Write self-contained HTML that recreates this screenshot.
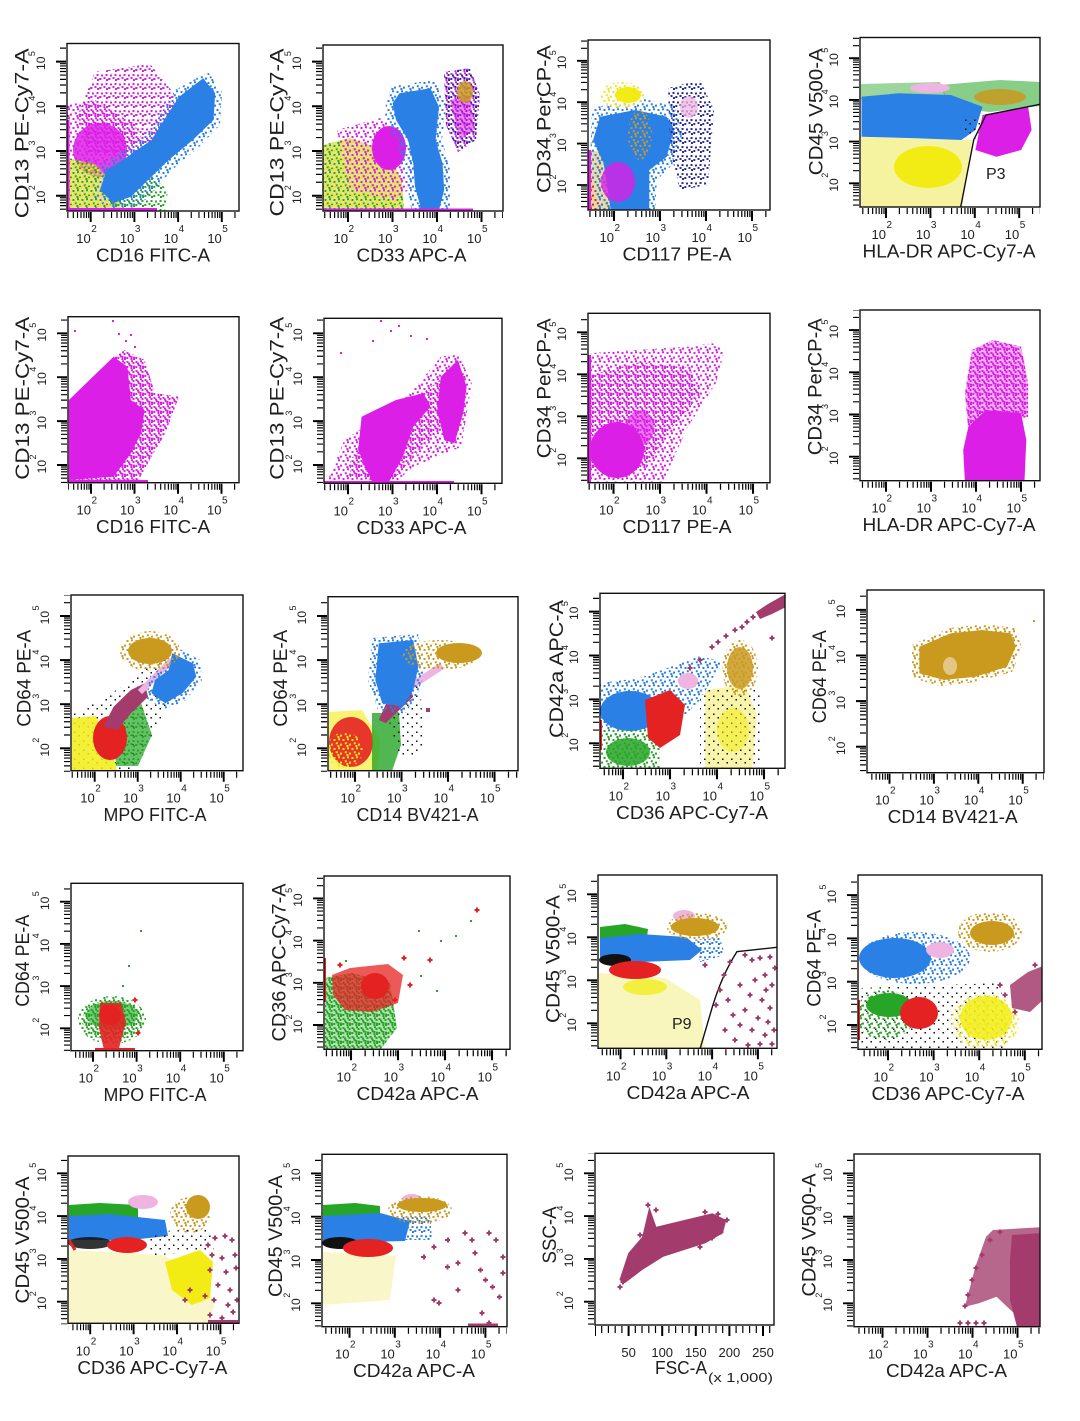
<!DOCTYPE html>
<html><head><meta charset="utf-8"><style>
html,body{margin:0;padding:0;background:#fff}
svg{display:block}
text{font-family:"Liberation Sans",Arial,sans-serif;fill:#1e1e1e}
.a{font-size:13px;text-anchor:end}
.e{font-size:10px}
.b{font-size:12px;text-anchor:end}
.f{font-size:9px}
.tx{font-size:18px;text-anchor:middle}
.ty{font-size:19px;text-anchor:middle}
.bx{fill:none;stroke:#111;stroke-width:1.4}
</style></head><body>
<svg width="1080" height="1421" viewBox="0 0 1080 1421" xmlns="http://www.w3.org/2000/svg">
<defs>
<g id="xd" stroke="#000"><line x1="0" y1="0" x2="0" y2="10" stroke-width="2"/><path d="M13.55,0v6M21.47,0v6M27.09,0v6M31.45,0v6M35.02,0v6M38.03,0v6M40.64,0v6M42.94,0v6" stroke-width="1.2"/></g>
<g id="yd" stroke="#000"><line x1="0" y1="0" x2="-10" y2="0" stroke-width="2"/><path d="M0,-13.55h-6M0,-21.47h-6M0,-27.09h-6M0,-31.45h-6M0,-35.02h-6M0,-38.03h-6M0,-40.64h-6M0,-42.94h-6" stroke-width="1.2"/></g>
<pattern id="pM" width="9" height="9" patternUnits="userSpaceOnUse"><path fill="#dc1fe6" d="M.5 1h2v2h-2zM5 .3h2v2h-2zM2.8 4.2h2v2h-2zM7 5.6h2v2h-2zM4.4 7h2v2h-2z"/></pattern>
<pattern id="pM2" width="9" height="9" patternUnits="userSpaceOnUse"><path fill="#dc1fe6" d="M2 2.5h2v2h-2zM6.5 2h2v2h-2zM.3 6h2v2h-2zM4.5 5h2v2h-2zM7 7h2v2h-2z"/></pattern>
<pattern id="pB" width="9" height="9" patternUnits="userSpaceOnUse"><path fill="#2b80e6" d="M.5 1h2v2h-2zM5 .3h2v2h-2zM2.8 4.2h2v2h-2zM7 5.6h2v2h-2zM4.4 7h2v2h-2z"/></pattern>
<pattern id="pB2" width="9" height="9" patternUnits="userSpaceOnUse"><path fill="#2b80e6" d="M2 2.5h2v2h-2zM6.5 2h2v2h-2zM.3 6h2v2h-2zM4.5 5h2v2h-2zM7 7h2v2h-2z"/></pattern>
<pattern id="pN" width="9" height="9" patternUnits="userSpaceOnUse"><path fill="#2a2ea0" d="M2 2.5h2v2h-2zM6.5 2h2v2h-2zM.3 6h2v2h-2zM4.5 5h2v2h-2zM7 7h2v2h-2z"/></pattern>
<pattern id="pY" width="9" height="9" patternUnits="userSpaceOnUse"><path fill="#eee41a" d="M.5 1h2v2h-2zM5 .3h2v2h-2zM2.8 4.2h2v2h-2zM7 5.6h2v2h-2zM4.4 7h2v2h-2z"/></pattern>
<pattern id="pY2" width="9" height="9" patternUnits="userSpaceOnUse"><path fill="#eee41a" d="M2 2.5h2v2h-2zM6.5 2h2v2h-2zM.3 6h2v2h-2zM4.5 5h2v2h-2zM7 7h2v2h-2z"/></pattern>
<pattern id="pG" width="9" height="9" patternUnits="userSpaceOnUse"><path fill="#26a526" d="M.5 1h2v2h-2zM5 .3h2v2h-2zM2.8 4.2h2v2h-2zM7 5.6h2v2h-2zM4.4 7h2v2h-2z"/></pattern>
<pattern id="pG2" width="9" height="9" patternUnits="userSpaceOnUse"><path fill="#26a526" d="M2 2.5h2v2h-2zM6.5 2h2v2h-2zM.3 6h2v2h-2zM4.5 5h2v2h-2zM7 7h2v2h-2z"/></pattern>
<pattern id="pR" width="9" height="9" patternUnits="userSpaceOnUse"><path fill="#e42222" d="M.5 1h2v2h-2zM5 .3h2v2h-2zM2.8 4.2h2v2h-2zM7 5.6h2v2h-2zM4.4 7h2v2h-2z"/></pattern>
<pattern id="pK" width="9" height="9" patternUnits="userSpaceOnUse"><path fill="#111" d="M2 2.5h1.5v1.5h-1.5zM6.5 6h1.5v1.5h-1.5z"/></pattern>
<pattern id="pO" width="9" height="9" patternUnits="userSpaceOnUse"><path fill="#c99a1e" d="M.5 1h2v2h-2zM5 .3h2v2h-2zM2.8 4.2h2v2h-2zM7 5.6h2v2h-2zM4.4 7h2v2h-2z"/></pattern>
<clipPath id="b1"><rect x="67" y="43.5" width="172" height="167.5"/></clipPath>
<clipPath id="k1"><rect x="67" y="211" width="172" height="14"/><rect x="55" y="43.5" width="12" height="168.5"/></clipPath>
<clipPath id="b2"><rect x="323" y="45" width="180" height="166"/></clipPath>
<clipPath id="k2"><rect x="323" y="211" width="180" height="14"/><rect x="311" y="45" width="12" height="167"/></clipPath>
<clipPath id="b3"><rect x="588" y="40" width="182" height="170"/></clipPath>
<clipPath id="k3"><rect x="588" y="210" width="182" height="14"/><rect x="576" y="40" width="12" height="171"/></clipPath>
<clipPath id="b4"><rect x="860" y="37.5" width="180" height="169.5"/></clipPath>
<clipPath id="k4"><rect x="860" y="207" width="180" height="14"/><rect x="848" y="37.5" width="12" height="170.5"/></clipPath>
<clipPath id="b5"><rect x="68" y="316.7" width="171" height="166"/></clipPath>
<clipPath id="k5"><rect x="68" y="482.7" width="171" height="14"/><rect x="56" y="316.7" width="12" height="167"/></clipPath>
<clipPath id="b6"><rect x="324" y="318.3" width="178" height="165"/></clipPath>
<clipPath id="k6"><rect x="324" y="483.3" width="178" height="14"/><rect x="312" y="318.3" width="12" height="166"/></clipPath>
<clipPath id="b7"><rect x="588" y="313.3" width="182" height="169.4"/></clipPath>
<clipPath id="k7"><rect x="588" y="482.7" width="182" height="14"/><rect x="576" y="313.3" width="12" height="170.4"/></clipPath>
<clipPath id="b8"><rect x="860" y="310" width="180" height="170.7"/></clipPath>
<clipPath id="k8"><rect x="860" y="480.7" width="180" height="14"/><rect x="848" y="310" width="12" height="171.7"/></clipPath>
<clipPath id="b9"><rect x="71" y="595" width="172" height="175.7"/></clipPath>
<clipPath id="k9"><rect x="71" y="770.7" width="172" height="14"/><rect x="59" y="595" width="12" height="176.7"/></clipPath>
<clipPath id="b10"><rect x="328" y="596.7" width="190" height="174"/></clipPath>
<clipPath id="k10"><rect x="328" y="770.7" width="190" height="14"/><rect x="316" y="596.7" width="12" height="175"/></clipPath>
<clipPath id="b11"><rect x="600" y="593.3" width="185" height="175"/></clipPath>
<clipPath id="k11"><rect x="600" y="768.3" width="185" height="14"/><rect x="588" y="593.3" width="12" height="176"/></clipPath>
<clipPath id="b12"><rect x="867" y="590" width="177" height="182.7"/></clipPath>
<clipPath id="k12"><rect x="867" y="772.7" width="177" height="14"/><rect x="855" y="590" width="12" height="183.7"/></clipPath>
<clipPath id="b13"><rect x="71" y="883.3" width="172" height="167.4"/></clipPath>
<clipPath id="k13"><rect x="71" y="1050.7" width="172" height="14"/><rect x="59" y="883.3" width="12" height="168.4"/></clipPath>
<clipPath id="b14"><rect x="324" y="876" width="186" height="173.3"/></clipPath>
<clipPath id="k14"><rect x="324" y="1049.3" width="186" height="14"/><rect x="312" y="876" width="12" height="174.3"/></clipPath>
<clipPath id="b15"><rect x="598" y="875" width="179" height="173.3"/></clipPath>
<clipPath id="k15"><rect x="598" y="1048.3" width="179" height="14"/><rect x="586" y="875" width="12" height="174.3"/></clipPath>
<clipPath id="b16"><rect x="858" y="875" width="184" height="174.3"/></clipPath>
<clipPath id="k16"><rect x="858" y="1049.3" width="184" height="14"/><rect x="846" y="875" width="12" height="175.3"/></clipPath>
<clipPath id="b17"><rect x="68" y="1156" width="171" height="167.3"/></clipPath>
<clipPath id="k17"><rect x="68" y="1323.3" width="171" height="14"/><rect x="56" y="1156" width="12" height="168.3"/></clipPath>
<clipPath id="b18"><rect x="322" y="1154.3" width="185" height="172.4"/></clipPath>
<clipPath id="k18"><rect x="322" y="1326.7" width="185" height="14"/><rect x="310" y="1154.3" width="12" height="173.4"/></clipPath>
<clipPath id="b19"><rect x="595" y="1153.3" width="179" height="171.7"/></clipPath>
<clipPath id="k19"><rect x="595" y="1325" width="179" height="14"/><rect x="583" y="1153.3" width="12" height="172.7"/></clipPath>
<clipPath id="b20"><rect x="854" y="1154" width="186" height="172.7"/></clipPath>
<clipPath id="k20"><rect x="854" y="1326.7" width="186" height="14"/><rect x="842" y="1154" width="12" height="173.7"/></clipPath>
</defs>
<rect width="1080" height="1421" fill="#fff"/>

<!-- ================= P1 ================= -->
<g clip-path="url(#b1)">
<path d="M95,72L150,64L175,95L170,135L135,160L88,152L78,115Z" fill="url(#pN)"/>
<path d="M95,72L150,64L175,95L170,135L135,160L88,152L78,115Z" fill="url(#pM2)"/>
<path d="M67,105L95,100L135,125L152,160L140,190L110,200L67,200Z" fill="url(#pM)"/>
<ellipse cx="100" cy="150" rx="27" ry="27" fill="#dc1fe6" opacity=".85"/>
<path d="M67,158L95,164L116,186L122,212L67,212Z" fill="#d6d04a" opacity=".6"/>
<path d="M67,158L95,164L116,186L122,212L67,212Z" fill="url(#pG)"/>
<path d="M67,158L95,164L116,186L122,212L67,212Z" fill="url(#pY2)"/>
<path d="M208,72L222,92L220,125L198,148L172,170L155,190L140,205L120,212L95,198L100,165L125,150L148,132L158,118L175,90Z" fill="url(#pB)"/>
<path d="M110,195L150,175L168,190L165,212L110,212Z" fill="url(#pG2)"/>
<path d="M203.2,78.3L215.2,93.3L213.5,120L192.8,140L168.7,160L148.1,180L130.9,196.7L113.6,203.3L99.9,190L106.7,170L127.4,156.7L151.5,140L161.8,123.3L179.1,96.7Z" fill="#2b80e6"/>
<path d="M67,209.5h90" stroke="#dc1fe6" stroke-width="3"/>
<path d="M68.5,120v92" stroke="#dc1fe6" stroke-width="2"/>
</g>
<rect class="bx" x="67" y="43.5" width="172" height="167.5"/>
<g clip-path="url(#k1)">
<use href="#xd" transform="translate(47,212) scale(.971,1)"/><use href="#xd" transform="translate(90.7,212) scale(.971,1)"/><use href="#xd" transform="translate(134.4,212) scale(.971,1)"/><use href="#xd" transform="translate(178.1,212) scale(.971,1)"/><use href="#xd" transform="translate(221.8,212) scale(.971,1)"/>
<use href="#yd" transform="translate(66,240.4) scale(1,.993)"/><use href="#yd" transform="translate(66,195.7) scale(1,.993)"/><use href="#yd" transform="translate(66,151) scale(1,.993)"/><use href="#yd" transform="translate(66,106.3) scale(1,.993)"/><use href="#yd" transform="translate(66,61.6) scale(1,.993)"/>
</g>
<text class="a" x="90.7" y="243">10</text><text class="e" x="91.2" y="232">2</text>
<text class="a" x="134.4" y="243">10</text><text class="e" x="134.9" y="232">3</text>
<text class="a" x="178.1" y="243">10</text><text class="e" x="178.6" y="232">4</text>
<text class="a" x="221.8" y="243">10</text><text class="e" x="222.3" y="232">5</text>
<text class="b" transform="translate(45,190.7) rotate(-90)">10</text><text class="f" transform="translate(35,190.2) rotate(-90)">2</text>
<text class="b" transform="translate(45,146) rotate(-90)">10</text><text class="f" transform="translate(35,145.5) rotate(-90)">3</text>
<text class="b" transform="translate(45,101.3) rotate(-90)">10</text><text class="f" transform="translate(35,100.8) rotate(-90)">4</text>
<text class="b" transform="translate(45,56.6) rotate(-90)">10</text><text class="f" transform="translate(35,56.1) rotate(-90)">5</text>
<text class="tx" x="153" y="261.5" textLength="114" lengthAdjust="spacingAndGlyphs">CD16 FITC-A</text>
<text class="ty" transform="translate(28.5,133.3) rotate(-90)" textLength="170" lengthAdjust="spacingAndGlyphs">CD13 PE-Cy7-A</text>

<!-- ================= P2 ================= -->
<g clip-path="url(#b2)">
<path d="M323,145L350,138L385,150L402,180L404,212L323,212Z" fill="#cfd24a" opacity=".6"/>
<path d="M323,145L350,138L385,150L402,180L404,212L323,212Z" fill="url(#pG)"/>
<path d="M323,145L350,138L385,150L402,180L404,212L323,212Z" fill="url(#pY2)"/>
<path d="M337,130L380,118L413,140L415,185L395,200L350,190Z" fill="url(#pM)"/>
<ellipse cx="389" cy="148" rx="17" ry="22" fill="#dc1fe6"/>
<path d="M444,72L470,68L480,95L476,140L458,152L446,125Z" fill="url(#pM)"/>
<path d="M444,72L470,68L480,95L476,140L458,152L446,125Z" fill="url(#pN)"/>
<path d="M450,100L470,95L474,130L460,140Z" fill="#dc1fe6" opacity=".55"/>
<ellipse cx="465" cy="92" rx="8" ry="11" fill="#c99a1e" opacity=".85"/>
<path d="M392,86L435,80L446,105L442,140L450,170L450,212L412,212L405,175L398,145L385,120L386,100Z" fill="url(#pB)"/>
<path d="M399.4,93.3L430.4,88.3L439,106.7L435.6,140L442.5,163.3L444.2,190L439,210L421.8,211.7L415,186.7L413.2,163.3L408.1,140L396,120L392.6,103.3Z" fill="#2b80e6"/>
<path d="M323,209.5h150" stroke="#dc1fe6" stroke-width="2"/>
</g>
<rect class="bx" x="323" y="45" width="180" height="166"/>
<g clip-path="url(#k2)">
<use href="#xd" transform="translate(303.5,212) scale(.989,1)"/><use href="#xd" transform="translate(348,212) scale(.989,1)"/><use href="#xd" transform="translate(392.5,212) scale(.989,1)"/><use href="#xd" transform="translate(437,212) scale(.989,1)"/><use href="#xd" transform="translate(481.5,212) scale(.989,1)"/>
<use href="#yd" transform="translate(322,240.4) scale(1,.993)"/><use href="#yd" transform="translate(322,195.7) scale(1,.993)"/><use href="#yd" transform="translate(322,151) scale(1,.993)"/><use href="#yd" transform="translate(322,106.3) scale(1,.993)"/><use href="#yd" transform="translate(322,61.6) scale(1,.993)"/>
</g>
<text class="a" x="348" y="243">10</text><text class="e" x="348.5" y="232">2</text>
<text class="a" x="392.5" y="243">10</text><text class="e" x="393" y="232">3</text>
<text class="a" x="437" y="243">10</text><text class="e" x="437.5" y="232">4</text>
<text class="a" x="481.5" y="243">10</text><text class="e" x="482" y="232">5</text>
<text class="b" transform="translate(301,190.7) rotate(-90)">10</text><text class="f" transform="translate(291,190.2) rotate(-90)">2</text>
<text class="b" transform="translate(301,146) rotate(-90)">10</text><text class="f" transform="translate(291,145.5) rotate(-90)">3</text>
<text class="b" transform="translate(301,101.3) rotate(-90)">10</text><text class="f" transform="translate(291,100.8) rotate(-90)">4</text>
<text class="b" transform="translate(301,56.6) rotate(-90)">10</text><text class="f" transform="translate(291,56.1) rotate(-90)">5</text>
<text class="tx" x="411.5" y="261.5" textLength="110" lengthAdjust="spacingAndGlyphs">CD33 APC-A</text>
<text class="ty" transform="translate(283.5,132.5) rotate(-90)" textLength="168" lengthAdjust="spacingAndGlyphs">CD13 PE-Cy7-A</text>

<!-- ================= P3 ================= -->
<g clip-path="url(#b3)">
<path d="M589,150L620,155L640,180L635,212L589,212Z" fill="#c9b040" opacity=".45"/>
<path d="M589,150L620,155L640,180L635,212L589,212Z" fill="url(#pY)"/>
<path d="M589,150L620,155L640,180L635,212L589,212Z" fill="url(#pR)"/>
<path d="M592,108L640,98L675,106L682,135L672,165L657,180L655,212L600,212L590,165Z" fill="url(#pB)"/>
<path d="M600.2,116.7L635.2,110L666.8,116.7L673.8,130L666.8,156.7L649.3,170L649.3,210L610.7,210L603.7,163.3L593.1,140Z" fill="#2b80e6"/>
<ellipse cx="640" cy="135" rx="12" ry="25" fill="url(#pO)"/>
<ellipse cx="618" cy="182" rx="17" ry="20" fill="#dc1fe6" opacity=".8"/>
<ellipse cx="622" cy="95" rx="22" ry="13" fill="url(#pY)"/>
<ellipse cx="628" cy="95" rx="13" ry="8" fill="#f2ec14"/>
<path d="M668,88L700,80L714,110L708,185L680,190L670,150Z" fill="url(#pN)"/>
<ellipse cx="689" cy="107" rx="9" ry="11" fill="#f0b4e2" opacity=".75"/>
<path d="M589.5,150V212" stroke="#dc1fe6" stroke-width="3"/>
</g>
<rect class="bx" x="588" y="40" width="182" height="170"/>
<g clip-path="url(#k3)">
<use href="#xd" transform="translate(568,211) scale(1.022,1)"/><use href="#xd" transform="translate(614,211) scale(1.022,1)"/><use href="#xd" transform="translate(660,211) scale(1.022,1)"/><use href="#xd" transform="translate(706,211) scale(1.022,1)"/><use href="#xd" transform="translate(752,211) scale(1.022,1)"/>
<use href="#yd" transform="translate(587,226.4) scale(1,.92)"/><use href="#yd" transform="translate(587,185) scale(1,.92)"/><use href="#yd" transform="translate(587,143.6) scale(1,.92)"/><use href="#yd" transform="translate(587,102.2) scale(1,.92)"/><use href="#yd" transform="translate(587,60.8) scale(1,.92)"/>
</g>
<text class="a" x="614" y="242">10</text><text class="e" x="614.5" y="231">2</text>
<text class="a" x="660" y="242">10</text><text class="e" x="660.5" y="231">3</text>
<text class="a" x="706" y="242">10</text><text class="e" x="706.5" y="231">4</text>
<text class="a" x="752" y="242">10</text><text class="e" x="752.5" y="231">5</text>
<text class="b" transform="translate(566,180) rotate(-90)">10</text><text class="f" transform="translate(556,179.5) rotate(-90)">2</text>
<text class="b" transform="translate(566,138.6) rotate(-90)">10</text><text class="f" transform="translate(556,138.1) rotate(-90)">3</text>
<text class="b" transform="translate(566,97.2) rotate(-90)">10</text><text class="f" transform="translate(556,96.7) rotate(-90)">4</text>
<text class="b" transform="translate(566,55.8) rotate(-90)">10</text><text class="f" transform="translate(556,55.3) rotate(-90)">5</text>
<text class="tx" x="677" y="260.5" textLength="109" lengthAdjust="spacingAndGlyphs">CD117 PE-A</text>
<text class="ty" transform="translate(550.5,119) rotate(-90)" textLength="148" lengthAdjust="spacingAndGlyphs">CD34 PerCP-A</text>

<!-- ================= P4 ================= -->
<g clip-path="url(#b4)">
<path d="M861,137L972,140L962,208L861,208Z" fill="#f6f3a0"/>
<ellipse cx="928" cy="167" rx="34" ry="21" fill="#f2ec14"/>
<path d="M861,84L940,82L946,97L861,99Z" fill="#26a526" opacity=".45"/>
<path d="M940,85L1000,80L1040,82L1040,106L990,112L950,108Z" fill="#26a526" opacity=".55"/>
<ellipse cx="1000" cy="97" rx="26" ry="8" fill="#c99a1e" opacity=".85"/>
<ellipse cx="930" cy="88" rx="20" ry="5" fill="#f0b4e2"/>
<path d="M861.5,96.7L898.3,93.3L950.9,95L982.5,106.7L975.4,130L961.4,140L915.8,138.3L861.5,136.7Z" fill="#2b80e6"/>
<ellipse cx="972" cy="128" rx="10" ry="12" fill="url(#pK)"/>
<path d="M982.5,115L1028.1,106.7L1031.6,130L1021.1,150L996.5,156.7L975.4,150Z" fill="#dc1fe6"/>
<path d="M960.7,207L973.7,140L986,115L1040,104.3" fill="none" stroke="#111" stroke-width="1.4"/>
</g>
<text x="986" y="179" font-size="16">P3</text>
<rect class="bx" x="860" y="37.5" width="180" height="169.5"/>
<g clip-path="url(#k4)">
<use href="#xd" transform="translate(841.6,208) scale(.987,1)"/><use href="#xd" transform="translate(886,208) scale(.987,1)"/><use href="#xd" transform="translate(930.4,208) scale(.987,1)"/><use href="#xd" transform="translate(974.8,208) scale(.987,1)"/><use href="#xd" transform="translate(1019.2,208) scale(.987,1)"/>
<use href="#yd" transform="translate(859,225) scale(1,.927)"/><use href="#yd" transform="translate(859,183.3) scale(1,.927)"/><use href="#yd" transform="translate(859,141.6) scale(1,.927)"/><use href="#yd" transform="translate(859,99.9) scale(1,.927)"/><use href="#yd" transform="translate(859,58.2) scale(1,.927)"/>
</g>
<text class="a" x="886" y="239">10</text><text class="e" x="886.5" y="228">2</text>
<text class="a" x="930.4" y="239">10</text><text class="e" x="930.9" y="228">3</text>
<text class="a" x="974.8" y="239">10</text><text class="e" x="975.3" y="228">4</text>
<text class="a" x="1019.2" y="239">10</text><text class="e" x="1019.7" y="228">5</text>
<text class="b" transform="translate(838,178.3) rotate(-90)">10</text><text class="f" transform="translate(828,177.8) rotate(-90)">2</text>
<text class="b" transform="translate(838,136.6) rotate(-90)">10</text><text class="f" transform="translate(828,136.1) rotate(-90)">3</text>
<text class="b" transform="translate(838,94.9) rotate(-90)">10</text><text class="f" transform="translate(828,94.4) rotate(-90)">4</text>
<text class="b" transform="translate(838,53.2) rotate(-90)">10</text><text class="f" transform="translate(828,52.7) rotate(-90)">5</text>
<text class="tx" x="949" y="257.5" textLength="173" lengthAdjust="spacingAndGlyphs">HLA-DR APC-Cy7-A</text>
<text class="ty" transform="translate(822.5,111.7) rotate(-90)" textLength="127" lengthAdjust="spacingAndGlyphs">CD45 V500-A</text>

<!-- ================= P5 ================= -->
<g clip-path="url(#b5)">
<path d="M68.9,410L103.3,366.7L124,350L144.6,360L155,393.3L179,396.7L165.3,433.3L151.5,456.7L137.7,481.7L68.9,481.7Z" fill="url(#pM)"/>
<path d="M68.9,410L103.3,366.7L124,350L144.6,360L155,393.3L179,396.7L165.3,433.3L151.5,456.7L137.7,481.7L68.9,481.7Z" fill="url(#pM2)"/>
<path d="M68.9,400L89.5,380L113.6,356.7L127.4,366.7L130.9,400L144.6,410L141.2,433.3L130.9,453.3L113.6,476.7L68.9,480Z" fill="#dc1fe6"/>
<path d="M68,481h80" stroke="#dc1fe6" stroke-width="2"/>
<path fill="#dc1fe6" d="M112 320h2v2h-2zM118 333h2v2h-2zM130 334h2v2h-2zM134 346h2v2h-2zM74 330h2v2h-2zM125 340h2v2h-2z"/>
</g>
<rect class="bx" x="68" y="316.7" width="171" height="166"/>
<g clip-path="url(#k5)">
<use href="#xd" transform="translate(47.5,483.7) scale(.967,1)"/><use href="#xd" transform="translate(91,483.7) scale(.967,1)"/><use href="#xd" transform="translate(134.5,483.7) scale(.967,1)"/><use href="#xd" transform="translate(178,483.7) scale(.967,1)"/><use href="#xd" transform="translate(221.5,483.7) scale(.967,1)"/>
<use href="#yd" transform="translate(67,508.9) scale(1,.976)"/><use href="#yd" transform="translate(67,465) scale(1,.976)"/><use href="#yd" transform="translate(67,421.1) scale(1,.976)"/><use href="#yd" transform="translate(67,377.2) scale(1,.976)"/><use href="#yd" transform="translate(67,333.3) scale(1,.976)"/>
</g>
<text class="a" x="91" y="514.7">10</text><text class="e" x="91.5" y="503.7">2</text>
<text class="a" x="134.5" y="514.7">10</text><text class="e" x="135" y="503.7">3</text>
<text class="a" x="178" y="514.7">10</text><text class="e" x="178.5" y="503.7">4</text>
<text class="a" x="221.5" y="514.7">10</text><text class="e" x="222" y="503.7">5</text>
<text class="b" transform="translate(46,460) rotate(-90)">10</text><text class="f" transform="translate(36,459.5) rotate(-90)">2</text>
<text class="b" transform="translate(46,416.1) rotate(-90)">10</text><text class="f" transform="translate(36,415.6) rotate(-90)">3</text>
<text class="b" transform="translate(46,372.2) rotate(-90)">10</text><text class="f" transform="translate(36,371.7) rotate(-90)">4</text>
<text class="b" transform="translate(46,328.3) rotate(-90)">10</text><text class="f" transform="translate(36,327.8) rotate(-90)">5</text>
<text class="tx" x="153" y="533.2" textLength="114" lengthAdjust="spacingAndGlyphs">CD16 FITC-A</text>
<text class="ty" transform="translate(29,398.3) rotate(-90)" textLength="163" lengthAdjust="spacingAndGlyphs">CD13 PE-Cy7-A</text>

<!-- ================= P6 ================= -->
<g clip-path="url(#b6)">
<path d="M330.6,473.3L344.4,440L378.8,416.7L413.2,390L440.8,356.7L458,353.3L471.8,383.3L461.4,446.7L437.3,456.7L413.2,466.7L396,481.7L327.1,481.7Z" fill="url(#pM)"/>
<path d="M350,460L380,425L420,395L440,380L450,420L420,450L395,478L350,478Z" fill="url(#pM2)"/>
<path d="M361.6,416.7L396,400L423.6,393.3L430.4,406.7L413.2,426.7L402.9,456.7L389.1,481.7L371.9,481.7L358.1,450Z" fill="#dc1fe6"/>
<path d="M440.8,376.7L458,360L466.6,386.7L463.2,413.3L454.5,443.3L444.2,440L437.3,410Z" fill="#dc1fe6"/>
<path d="M324,482h130" stroke="#dc1fe6" stroke-width="2"/>
<path fill="#dc1fe6" d="M380 320h2v2h-2zM390 330h2v2h-2zM398 325h2v2h-2zM372 340h2v2h-2zM410 335h2v2h-2zM426 338h2v2h-2zM340 352h2v2h-2z"/>
</g>
<rect class="bx" x="324" y="318.3" width="178" height="165"/>
<g clip-path="url(#k6)">
<use href="#xd" transform="translate(303.5,484.3) scale(.989,1)"/><use href="#xd" transform="translate(348,484.3) scale(.989,1)"/><use href="#xd" transform="translate(392.5,484.3) scale(.989,1)"/><use href="#xd" transform="translate(437,484.3) scale(.989,1)"/><use href="#xd" transform="translate(481.5,484.3) scale(.989,1)"/>
<use href="#yd" transform="translate(323,508.9) scale(1,.976)"/><use href="#yd" transform="translate(323,465) scale(1,.976)"/><use href="#yd" transform="translate(323,421.1) scale(1,.976)"/><use href="#yd" transform="translate(323,377.2) scale(1,.976)"/><use href="#yd" transform="translate(323,333.3) scale(1,.976)"/>
</g>
<text class="a" x="348" y="515.3">10</text><text class="e" x="348.5" y="504.3">2</text>
<text class="a" x="392.5" y="515.3">10</text><text class="e" x="393" y="504.3">3</text>
<text class="a" x="437" y="515.3">10</text><text class="e" x="437.5" y="504.3">4</text>
<text class="a" x="481.5" y="515.3">10</text><text class="e" x="482" y="504.3">5</text>
<text class="b" transform="translate(302,460) rotate(-90)">10</text><text class="f" transform="translate(292,459.5) rotate(-90)">2</text>
<text class="b" transform="translate(302,416.1) rotate(-90)">10</text><text class="f" transform="translate(292,415.6) rotate(-90)">3</text>
<text class="b" transform="translate(302,372.2) rotate(-90)">10</text><text class="f" transform="translate(292,371.7) rotate(-90)">4</text>
<text class="b" transform="translate(302,328.3) rotate(-90)">10</text><text class="f" transform="translate(292,327.8) rotate(-90)">5</text>
<text class="tx" x="411.5" y="533.8" textLength="110" lengthAdjust="spacingAndGlyphs">CD33 APC-A</text>
<text class="ty" transform="translate(283.5,398.3) rotate(-90)" textLength="163" lengthAdjust="spacingAndGlyphs">CD13 PE-Cy7-A</text>

<!-- ================= P7 ================= -->
<g clip-path="url(#b7)">
<path d="M589.6,353.3L635.2,350L687.8,346.7L712.4,343.3L724.7,350L715.9,383.3L687.8,426.7L677.3,450L663.3,481.7L589.6,481.7Z" fill="url(#pM)"/>
<path d="M590,375L640,362L690,368L700,395L670,430L645,470L590,470Z" fill="url(#pM2)"/>
<ellipse cx="617" cy="450" rx="27" ry="28" fill="#dc1fe6"/>
<ellipse cx="640" cy="428" rx="14" ry="18" fill="#dc1fe6" opacity=".6"/>
<path d="M589.5,355V482" stroke="#dc1fe6" stroke-width="3"/>
</g>
<rect class="bx" x="588" y="313.3" width="182" height="169.4"/>
<g clip-path="url(#k7)">
<use href="#xd" transform="translate(567,483.7) scale(1.033,1)"/><use href="#xd" transform="translate(613.5,483.7) scale(1.033,1)"/><use href="#xd" transform="translate(660,483.7) scale(1.033,1)"/><use href="#xd" transform="translate(706.5,483.7) scale(1.033,1)"/><use href="#xd" transform="translate(753,483.7) scale(1.033,1)"/>
<use href="#yd" transform="translate(587,500.3) scale(1,.933)"/><use href="#yd" transform="translate(587,458.3) scale(1,.933)"/><use href="#yd" transform="translate(587,416.3) scale(1,.933)"/><use href="#yd" transform="translate(587,374.3) scale(1,.933)"/><use href="#yd" transform="translate(587,332.3) scale(1,.933)"/>
</g>
<text class="a" x="613.5" y="514.7">10</text><text class="e" x="614" y="503.7">2</text>
<text class="a" x="660" y="514.7">10</text><text class="e" x="660.5" y="503.7">3</text>
<text class="a" x="706.5" y="514.7">10</text><text class="e" x="707" y="503.7">4</text>
<text class="a" x="753" y="514.7">10</text><text class="e" x="753.5" y="503.7">5</text>
<text class="b" transform="translate(566,453.3) rotate(-90)">10</text><text class="f" transform="translate(556,452.8) rotate(-90)">2</text>
<text class="b" transform="translate(566,411.3) rotate(-90)">10</text><text class="f" transform="translate(556,410.8) rotate(-90)">3</text>
<text class="b" transform="translate(566,369.3) rotate(-90)">10</text><text class="f" transform="translate(556,368.8) rotate(-90)">4</text>
<text class="b" transform="translate(566,327.3) rotate(-90)">10</text><text class="f" transform="translate(556,326.8) rotate(-90)">5</text>
<text class="tx" x="677" y="533.2" textLength="109" lengthAdjust="spacingAndGlyphs">CD117 PE-A</text>
<text class="ty" transform="translate(550.5,388.3) rotate(-90)" textLength="140" lengthAdjust="spacingAndGlyphs">CD34 PerCP-A</text>

<!-- ================= P8 ================= -->
<g clip-path="url(#b8)">
<path d="M972,350L993,340L1021.1,346.7L1028.1,383.3L1028.1,416.7L968.4,430L964.9,393.3Z" fill="#dc1fe6" opacity=".35"/>
<path d="M972,350L993,340L1021.1,346.7L1028.1,383.3L1028.1,416.7L968.4,430L964.9,393.3Z" fill="url(#pM)"/>
<path d="M972,350L993,340L1021.1,346.7L1028.1,383.3L1028.1,416.7L968.4,430L964.9,393.3Z" fill="url(#pM2)"/>
<path d="M968.4,426.7L986,410L1021.1,413.3L1026.3,440L1024.5,481L964.9,481L963.2,450Z" fill="#dc1fe6"/>
</g>
<rect class="bx" x="860" y="310" width="180" height="170.7"/>
<g clip-path="url(#k8)">
<use href="#xd" transform="translate(841,481.7)"/><use href="#xd" transform="translate(886,481.7)"/><use href="#xd" transform="translate(931,481.7)"/><use href="#xd" transform="translate(976,481.7)"/><use href="#xd" transform="translate(1021,481.7)"/>
<use href="#yd" transform="translate(859,498.9) scale(1,.938)"/><use href="#yd" transform="translate(859,456.7) scale(1,.938)"/><use href="#yd" transform="translate(859,414.5) scale(1,.938)"/><use href="#yd" transform="translate(859,372.3) scale(1,.938)"/><use href="#yd" transform="translate(859,330.1) scale(1,.938)"/>
</g>
<text class="a" x="886" y="512.7">10</text><text class="e" x="886.5" y="501.7">2</text>
<text class="a" x="931" y="512.7">10</text><text class="e" x="931.5" y="501.7">3</text>
<text class="a" x="976" y="512.7">10</text><text class="e" x="976.5" y="501.7">4</text>
<text class="a" x="1021" y="512.7">10</text><text class="e" x="1021.5" y="501.7">5</text>
<text class="b" transform="translate(838,451.7) rotate(-90)">10</text><text class="f" transform="translate(828,451.2) rotate(-90)">2</text>
<text class="b" transform="translate(838,409.5) rotate(-90)">10</text><text class="f" transform="translate(828,409) rotate(-90)">3</text>
<text class="b" transform="translate(838,367.3) rotate(-90)">10</text><text class="f" transform="translate(828,366.8) rotate(-90)">4</text>
<text class="b" transform="translate(838,325.1) rotate(-90)">10</text><text class="f" transform="translate(828,324.6) rotate(-90)">5</text>
<text class="tx" x="949" y="531.2" textLength="173" lengthAdjust="spacingAndGlyphs">HLA-DR APC-Cy7-A</text>
<text class="ty" transform="translate(821.5,386.7) rotate(-90)" textLength="137" lengthAdjust="spacingAndGlyphs">CD34 PerCP-A</text>

<!-- ================= P9 ================= -->
<g clip-path="url(#b9)">
<path d="M72,715L120,688L160,648L182,660L170,700L150,740L130,771L72,771Z" fill="url(#pK)"/>
<path d="M72,718L96,716L113,752L117,771L72,771Z" fill="#f2ec14" opacity=".85"/>
<path d="M113.6,706.7L140,700L152,735L138,766L116,766Z" fill="#26a526" opacity=".7"/>
<path d="M113.6,706.7L140,700L152,735L138,766L116,766Z" fill="url(#pG2)"/>
<ellipse cx="110" cy="738" rx="17" ry="22" fill="#e42222"/>
<path d="M103.3,726.7L113.6,706.7L130.9,690L144.6,683.3L148.1,696.7L130.9,713.3L117.1,730Z" fill="#a33c6c"/>
<path d="M140,692L172,660" stroke="#f0b4e2" stroke-width="6"/>
<path d="M178,648L200,660L202,680L186,700L165,710L146,698L150,676L166,664Z" fill="url(#pB)"/>
<path d="M172.2,653.3L192.8,663.3L196.3,676.7L182.5,693.3L165.3,703.3L151.5,693.3L155,680L168.7,670Z" fill="#2b80e6"/>
<ellipse cx="150" cy="651" rx="30" ry="20" fill="url(#pO)"/>
<ellipse cx="150" cy="651" rx="22" ry="13" fill="#c99a1e"/>
</g>
<rect class="bx" x="71" y="595" width="172" height="175.7"/>
<g clip-path="url(#k9)">
<use href="#xd" transform="translate(51.7,771.7) scale(.956,1)"/><use href="#xd" transform="translate(94.7,771.7) scale(.956,1)"/><use href="#xd" transform="translate(137.7,771.7) scale(.956,1)"/><use href="#xd" transform="translate(180.7,771.7) scale(.956,1)"/><use href="#xd" transform="translate(223.7,771.7) scale(.956,1)"/>
<use href="#yd" transform="translate(70,792.4) scale(1,.98)"/><use href="#yd" transform="translate(70,748.3) scale(1,.98)"/><use href="#yd" transform="translate(70,704.2) scale(1,.98)"/><use href="#yd" transform="translate(70,660.1) scale(1,.98)"/><use href="#yd" transform="translate(70,616) scale(1,.98)"/>
</g>
<text class="a" x="94.7" y="802.7">10</text><text class="e" x="95.2" y="791.7">2</text>
<text class="a" x="137.7" y="802.7">10</text><text class="e" x="138.2" y="791.7">3</text>
<text class="a" x="180.7" y="802.7">10</text><text class="e" x="181.2" y="791.7">4</text>
<text class="a" x="223.7" y="802.7">10</text><text class="e" x="224.2" y="791.7">5</text>
<text class="b" transform="translate(49,743.3) rotate(-90)">10</text><text class="f" transform="translate(39,742.8) rotate(-90)">2</text>
<text class="b" transform="translate(49,699.2) rotate(-90)">10</text><text class="f" transform="translate(39,698.7) rotate(-90)">3</text>
<text class="b" transform="translate(49,655.1) rotate(-90)">10</text><text class="f" transform="translate(39,654.6) rotate(-90)">4</text>
<text class="b" transform="translate(49,611) rotate(-90)">10</text><text class="f" transform="translate(39,610.5) rotate(-90)">5</text>
<text class="tx" x="155" y="821.2" textLength="103" lengthAdjust="spacingAndGlyphs">MPO FITC-A</text>
<text class="ty" transform="translate(30.5,678.3) rotate(-90)" textLength="97" lengthAdjust="spacingAndGlyphs">CD64 PE-A</text>

<!-- ================= P10 ================= -->
<g clip-path="url(#b10)">
<path d="M329,712L362,710L380,740L377,771L329,771Z" fill="#f2ec14" opacity=".6"/>
<ellipse cx="351" cy="742" rx="22" ry="25" fill="#e42222" opacity=".9"/>
<ellipse cx="345" cy="750" rx="18" ry="18" fill="url(#pY)"/>
<path d="M372,713L399,713L401,745L392,771L372,771Z" fill="#26a526" opacity=".8"/>
<path d="M380,690L420,685L425,750L400,760Z" fill="url(#pK)"/>
<path d="M378.8,720L389.1,696.7L409.8,686.7L413.2,696.7L396,713.3L385.7,723.3Z" fill="#a33c6c"/>
<path d="M408,688L442,666" stroke="#f0b4e2" stroke-width="7"/>
<path d="M372,638L418,634L425,668L418,694L405,714L378,710L368,680Z" fill="url(#pB)"/>
<path d="M378.8,643.3L413.2,640L418.4,666.7L413.2,690L402.9,706.7L382.2,703.3L375.3,680Z" fill="#2b80e6"/>
<ellipse cx="440" cy="655" rx="38" ry="15" fill="url(#pO)"/>
<ellipse cx="459" cy="653" rx="23" ry="10" fill="#c99a1e"/>
<rect x="426" y="708" width="4" height="4" fill="#a33c6c"/>
</g>
<rect class="bx" x="328" y="596.7" width="190" height="174"/>
<g clip-path="url(#k10)">
<use href="#xd" transform="translate(308.5,771.7) scale(1.033,1)"/><use href="#xd" transform="translate(355,771.7) scale(1.033,1)"/><use href="#xd" transform="translate(401.5,771.7) scale(1.033,1)"/><use href="#xd" transform="translate(448,771.7) scale(1.033,1)"/><use href="#xd" transform="translate(494.5,771.7) scale(1.033,1)"/>
<use href="#yd" transform="translate(327,792.4) scale(1,.98)"/><use href="#yd" transform="translate(327,748.3) scale(1,.98)"/><use href="#yd" transform="translate(327,704.2) scale(1,.98)"/><use href="#yd" transform="translate(327,660.1) scale(1,.98)"/><use href="#yd" transform="translate(327,616) scale(1,.98)"/>
</g>
<text class="a" x="355" y="802.7">10</text><text class="e" x="355.5" y="791.7">2</text>
<text class="a" x="401.5" y="802.7">10</text><text class="e" x="402" y="791.7">3</text>
<text class="a" x="448" y="802.7">10</text><text class="e" x="448.5" y="791.7">4</text>
<text class="a" x="494.5" y="802.7">10</text><text class="e" x="495" y="791.7">5</text>
<text class="b" transform="translate(306,743.3) rotate(-90)">10</text><text class="f" transform="translate(296,742.8) rotate(-90)">2</text>
<text class="b" transform="translate(306,699.2) rotate(-90)">10</text><text class="f" transform="translate(296,698.7) rotate(-90)">3</text>
<text class="b" transform="translate(306,655.1) rotate(-90)">10</text><text class="f" transform="translate(296,654.6) rotate(-90)">4</text>
<text class="b" transform="translate(306,611) rotate(-90)">10</text><text class="f" transform="translate(296,610.5) rotate(-90)">5</text>
<text class="tx" x="417.5" y="821.2" textLength="122" lengthAdjust="spacingAndGlyphs">CD14 BV421-A</text>
<text class="ty" transform="translate(287,678.3) rotate(-90)" textLength="97" lengthAdjust="spacingAndGlyphs">CD64 PE-A</text>

<!-- ================= P11 ================= -->
<g clip-path="url(#b11)">
<path d="M705,690L745,685L757,715L752,769L705,769Z" fill="#f7f29a" opacity=".85"/>
<path d="M700,690L760,690L760,769L700,769Z" fill="url(#pK)"/>
<ellipse cx="733" cy="730" rx="16" ry="22" fill="#f2ec14" opacity=".55"/>
<ellipse cx="740" cy="668" rx="18" ry="28" fill="url(#pO)"/>
<ellipse cx="740" cy="668" rx="13" ry="21" fill="#c99a1e" opacity=".85"/>
<path d="M600,683L640,678L700,656L722,662L700,700L670,730L600,742Z" fill="url(#pB)"/>
<ellipse cx="630" cy="711" rx="30" ry="20" fill="#2b80e6"/>
<path d="M600,730L660,730L660,769L600,769Z" fill="url(#pG)"/>
<ellipse cx="628" cy="752" rx="22" ry="14" fill="#26a526" opacity=".85"/>
<path d="M645,700L670,690L685,705L680,735L660,748L648,738Z" fill="#e42222"/>
<ellipse cx="688" cy="681" rx="10" ry="8" fill="#f0b4e2"/>
<path d="M756,612L768,604L786,594L786,607L772,614L760,619Z" fill="#a33c6c"/>
<path d="M709.5 647h5M712 644.5v5M715.5 642h5M718 639.5v5M723.5 636h5M726 633.5v5M732.5 630h5M735 627.5v5M739.5 627h5M742 624.5v5M744.5 622h5M747 619.5v5M750.5 617h5M753 614.5v5M769.5 638h5M772 635.5v5M697.5 660h5M700 657.5v5M687.5 668h5M690 665.5v5" stroke="#a33c6c" stroke-width="2" fill="none"/>
<path d="M601 720v30" stroke="#e42222" stroke-width="2"/>
</g>
<rect class="bx" x="600" y="593.3" width="185" height="175"/>
<g clip-path="url(#k11)">
<use href="#xd" transform="translate(576,769.3) scale(1.044,1)"/><use href="#xd" transform="translate(623,769.3) scale(1.044,1)"/><use href="#xd" transform="translate(670,769.3) scale(1.044,1)"/><use href="#xd" transform="translate(717,769.3) scale(1.044,1)"/><use href="#xd" transform="translate(764,769.3) scale(1.044,1)"/>
<use href="#yd" transform="translate(599,787.2) scale(1,.976)"/><use href="#yd" transform="translate(599,743.3) scale(1,.976)"/><use href="#yd" transform="translate(599,699.4) scale(1,.976)"/><use href="#yd" transform="translate(599,655.5) scale(1,.976)"/><use href="#yd" transform="translate(599,611.6) scale(1,.976)"/>
</g>
<text class="a" x="623" y="800.3">10</text><text class="e" x="623.5" y="789.3">2</text>
<text class="a" x="670" y="800.3">10</text><text class="e" x="670.5" y="789.3">3</text>
<text class="a" x="717" y="800.3">10</text><text class="e" x="717.5" y="789.3">4</text>
<text class="a" x="764" y="800.3">10</text><text class="e" x="764.5" y="789.3">5</text>
<text class="b" transform="translate(578,738.3) rotate(-90)">10</text><text class="f" transform="translate(568,737.8) rotate(-90)">2</text>
<text class="b" transform="translate(578,694.4) rotate(-90)">10</text><text class="f" transform="translate(568,693.9) rotate(-90)">3</text>
<text class="b" transform="translate(578,650.5) rotate(-90)">10</text><text class="f" transform="translate(568,650) rotate(-90)">4</text>
<text class="b" transform="translate(578,606.6) rotate(-90)">10</text><text class="f" transform="translate(568,606.1) rotate(-90)">5</text>
<text class="tx" x="692" y="818.8" textLength="152" lengthAdjust="spacingAndGlyphs">CD36 APC-Cy7-A</text>
<text class="ty" transform="translate(562.8,669) rotate(-90)" textLength="138" lengthAdjust="spacingAndGlyphs">CD42a APC-A</text>

<!-- ================= P12 ================= -->
<g clip-path="url(#b12)">
<path d="M912,645L950,628L985,624L1015,628L1022,648L1012,672L975,682L940,686L912,678Z" fill="url(#pO)"/>
<path d="M919.3,646.7L950.9,633.3L982.5,630L1010.5,633.3L1015.8,646.7L1007,666.7L975.4,676.7L943.9,680L919.3,673.3Z" fill="#c99a1e"/>
<ellipse cx="950" cy="666" rx="7" ry="9" fill="#fff" opacity=".45"/>
<rect x="1033" y="620" width="2" height="2" fill="#c99a1e"/>
</g>
<rect class="bx" x="867" y="590" width="177" height="182.7"/>
<g clip-path="url(#k12)">
<use href="#xd" transform="translate(845.1,773.7) scale(.987,1)"/><use href="#xd" transform="translate(889.5,773.7) scale(.987,1)"/><use href="#xd" transform="translate(933.9,773.7) scale(.987,1)"/><use href="#xd" transform="translate(978.3,773.7) scale(.987,1)"/><use href="#xd" transform="translate(1022.7,773.7) scale(.987,1)"/>
<use href="#yd" transform="translate(866,792.3) scale(1,1.013)"/><use href="#yd" transform="translate(866,746.7) scale(1,1.013)"/><use href="#yd" transform="translate(866,701.1) scale(1,1.013)"/><use href="#yd" transform="translate(866,655.5) scale(1,1.013)"/><use href="#yd" transform="translate(866,609.9) scale(1,1.013)"/>
</g>
<text class="a" x="889.5" y="804.7">10</text><text class="e" x="890" y="793.7">2</text>
<text class="a" x="933.9" y="804.7">10</text><text class="e" x="934.4" y="793.7">3</text>
<text class="a" x="978.3" y="804.7">10</text><text class="e" x="978.8" y="793.7">4</text>
<text class="a" x="1022.7" y="804.7">10</text><text class="e" x="1023.2" y="793.7">5</text>
<text class="b" transform="translate(845,741.7) rotate(-90)">10</text><text class="f" transform="translate(835,741.2) rotate(-90)">2</text>
<text class="b" transform="translate(845,696.1) rotate(-90)">10</text><text class="f" transform="translate(835,695.6) rotate(-90)">3</text>
<text class="b" transform="translate(845,650.5) rotate(-90)">10</text><text class="f" transform="translate(835,650) rotate(-90)">4</text>
<text class="b" transform="translate(845,604.9) rotate(-90)">10</text><text class="f" transform="translate(835,604.4) rotate(-90)">5</text>
<text class="tx" x="952.7" y="823.2" textLength="130" lengthAdjust="spacingAndGlyphs">CD14 BV421-A</text>
<text class="ty" transform="translate(826,676.7) rotate(-90)" textLength="93" lengthAdjust="spacingAndGlyphs">CD64 PE-A</text>

<!-- ================= P13 ================= -->
<g clip-path="url(#b13)">
<ellipse cx="112" cy="1020" rx="34" ry="24" fill="url(#pG)"/>
<ellipse cx="112" cy="1020" rx="30" ry="20" fill="url(#pG2)"/>
<ellipse cx="112" cy="1015" rx="26" ry="14" fill="#26a526" opacity=".6"/>
<path d="M100,1003L121,1003L126,1022L119,1048L104,1050L99,1028Z" fill="#e42222" opacity=".9"/>
<ellipse cx="110" cy="1015" rx="11" ry="10" fill="#e42222"/>
<path d="M132.5 1000h5M135 997.5v5M135.5 1033h5M138 1030.5v5" stroke="#e42222" stroke-width="2"/>
<path fill="#26a526" d="M140 930h2v2h-2zM128 965h2v2h-2zM122 985h2v2h-2z"/>
<path d="M95,1049h40" stroke="#e42222" stroke-width="2"/>
</g>
<rect class="bx" x="71" y="883.3" width="172" height="167.4"/>
<g clip-path="url(#k13)">
<use href="#xd" transform="translate(49.4,1051.7) scale(.969,1)"/><use href="#xd" transform="translate(93,1051.7) scale(.969,1)"/><use href="#xd" transform="translate(136.6,1051.7) scale(.969,1)"/><use href="#xd" transform="translate(180.2,1051.7) scale(.969,1)"/><use href="#xd" transform="translate(223.8,1051.7) scale(.969,1)"/>
<use href="#yd" transform="translate(70,1070.5) scale(1,.938)"/><use href="#yd" transform="translate(70,1028.3) scale(1,.938)"/><use href="#yd" transform="translate(70,986.1) scale(1,.938)"/><use href="#yd" transform="translate(70,943.9) scale(1,.938)"/><use href="#yd" transform="translate(70,901.7) scale(1,.938)"/>
</g>
<text class="a" x="93" y="1082.7">10</text><text class="e" x="93.5" y="1071.7">2</text>
<text class="a" x="136.6" y="1082.7">10</text><text class="e" x="137.1" y="1071.7">3</text>
<text class="a" x="180.2" y="1082.7">10</text><text class="e" x="180.7" y="1071.7">4</text>
<text class="a" x="223.8" y="1082.7">10</text><text class="e" x="224.3" y="1071.7">5</text>
<text class="b" transform="translate(49,1023.3) rotate(-90)">10</text><text class="f" transform="translate(39,1022.8) rotate(-90)">2</text>
<text class="b" transform="translate(49,981.1) rotate(-90)">10</text><text class="f" transform="translate(39,980.6) rotate(-90)">3</text>
<text class="b" transform="translate(49,938.9) rotate(-90)">10</text><text class="f" transform="translate(39,938.4) rotate(-90)">4</text>
<text class="b" transform="translate(49,896.7) rotate(-90)">10</text><text class="f" transform="translate(39,896.2) rotate(-90)">5</text>
<text class="tx" x="155" y="1101.2" textLength="103" lengthAdjust="spacingAndGlyphs">MPO FITC-A</text>
<text class="ty" transform="translate(29,960.8) rotate(-90)" textLength="92" lengthAdjust="spacingAndGlyphs">CD64 PE-A</text>

<!-- ================= P14 ================= -->
<g clip-path="url(#b14)">
<path d="M325,978L352,973L390,983L397,1028L380,1050L325,1050Z" fill="#26a526" opacity=".35"/>
<path d="M325,978L352,973L390,983L397,1028L380,1050L325,1050Z" fill="url(#pG)"/>
<path d="M325,978L352,973L390,983L397,1028L380,1050L325,1050Z" fill="url(#pG2)"/>
<path d="M332,975L350,968L388,964L403,975L398,1003L372,1012L345,1010L333,995Z" fill="#e42222" opacity=".75"/>
<ellipse cx="375" cy="986" rx="14" ry="13" fill="#e42222"/>
<path d="M325,958V1002" stroke="#e42222" stroke-width="2"/>
<path d="M427.5 960h5M430 957.5v5M474.5 910h5M477 907.5v5M407.5 985h5M410 982.5v5M392.5 1000h5M395 997.5v5M337.5 965h5M340 962.5v5M401.5 958h5M404 955.5v5" stroke="#e42222" stroke-width="2"/>
<path fill="#26a526" d="M418 930h2v2h-2zM440 940h2v2h-2zM455 935h2v2h-2zM470 920h2v2h-2zM420 975h2v2h-2zM436 990h2v2h-2zM345 960h2v2h-2z"/>
</g>
<rect class="bx" x="324" y="876" width="186" height="173.3"/>
<g clip-path="url(#k14)">
<use href="#xd" transform="translate(304,1050.3) scale(1.044,1)"/><use href="#xd" transform="translate(351,1050.3) scale(1.044,1)"/><use href="#xd" transform="translate(398,1050.3) scale(1.044,1)"/><use href="#xd" transform="translate(445,1050.3) scale(1.044,1)"/><use href="#xd" transform="translate(492,1050.3) scale(1.044,1)"/>
<use href="#yd" transform="translate(323,1067.2) scale(1,.938)"/><use href="#yd" transform="translate(323,1025) scale(1,.938)"/><use href="#yd" transform="translate(323,982.8) scale(1,.938)"/><use href="#yd" transform="translate(323,940.6) scale(1,.938)"/><use href="#yd" transform="translate(323,898.4) scale(1,.938)"/>
</g>
<text class="a" x="351" y="1081.3">10</text><text class="e" x="351.5" y="1070.3">2</text>
<text class="a" x="398" y="1081.3">10</text><text class="e" x="398.5" y="1070.3">3</text>
<text class="a" x="445" y="1081.3">10</text><text class="e" x="445.5" y="1070.3">4</text>
<text class="a" x="492" y="1081.3">10</text><text class="e" x="492.5" y="1070.3">5</text>
<text class="b" transform="translate(302,1020) rotate(-90)">10</text><text class="f" transform="translate(292,1019.5) rotate(-90)">2</text>
<text class="b" transform="translate(302,977.8) rotate(-90)">10</text><text class="f" transform="translate(292,977.3) rotate(-90)">3</text>
<text class="b" transform="translate(302,935.6) rotate(-90)">10</text><text class="f" transform="translate(292,935.1) rotate(-90)">4</text>
<text class="b" transform="translate(302,893.4) rotate(-90)">10</text><text class="f" transform="translate(292,892.9) rotate(-90)">5</text>
<text class="tx" x="417.5" y="1099.8" textLength="122" lengthAdjust="spacingAndGlyphs">CD42a APC-A</text>
<text class="ty" transform="translate(285.5,962.5) rotate(-90)" textLength="158" lengthAdjust="spacingAndGlyphs">CD36 APC-Cy7-A</text>

<!-- ================= P15 ================= -->
<g clip-path="url(#b15)">
<path d="M599,973L665,978L700,1000L705,1049L599,1049Z" fill="#f7f4b0" opacity=".85"/>
<path d="M600,927L625,924L648,929L646,946L600,948Z" fill="#26a526"/>
<path d="M600,938L640,934L686,937L702,950L690,960L640,962L600,960Z" fill="#2b80e6"/>
<path d="M690,940L720,938L725,955L700,962Z" fill="url(#pB2)"/>
<ellipse cx="684" cy="916" rx="11" ry="6" fill="#f0b4e2"/>
<ellipse cx="697" cy="927" rx="30" ry="14" fill="url(#pO)"/>
<ellipse cx="695" cy="927" rx="24" ry="9" fill="#c99a1e"/>
<ellipse cx="615" cy="960" rx="16" ry="6" fill="#111"/>
<ellipse cx="635" cy="970" rx="26" ry="9" fill="#e42222"/>
<ellipse cx="645" cy="987" rx="22" ry="8" fill="#f2ec14" opacity=".75"/>
<path d="M700,1049L712.4,1006.7Q722,975 736.9,951.7L777,947.3" fill="none" stroke="#111" stroke-width="1.4"/>
<path d="M717.5 990h5M720 987.5v5M721.5 975h5M724 972.5v5M727.5 962h5M730 959.5v5M742.5 955h5M745 952.5v5M749.5 960h5M752 957.5v5M757.5 958h5M760 955.5v5M767.5 957h5M770 954.5v5M713.5 1005h5M716 1002.5v5M725.5 1000h5M728 997.5v5M737.5 985h5M740 982.5v5M752.5 980h5M755 977.5v5M762.5 975h5M765 972.5v5M769.5 985h5M772 982.5v5M747.5 995h5M750 992.5v5M759.5 1000h5M762 997.5v5M767.5 1008h5M770 1005.5v5M742.5 1010h5M745 1007.5v5M755.5 1018h5M758 1015.5v5M765.5 1022h5M768 1019.5v5M737.5 1025h5M740 1022.5v5M749.5 1030h5M752 1027.5v5M762.5 1035h5M765 1032.5v5M771.5 1030h5M774 1027.5v5M732.5 1040h5M735 1037.5v5M745.5 1045h5M748 1042.5v5M757.5 1044h5M760 1041.5v5M769.5 1044h5M772 1041.5v5M722.5 1030h5M725 1027.5v5M730.5 1015h5M733 1012.5v5M763.5 990h5M766 987.5v5M772.5 968h5M775 965.5v5M702.5 965h5M705 962.5v5" stroke="#a33c6c" stroke-width="2" fill="none"/>
</g>
<text x="672" y="1029" font-size="16">P9</text>
<rect class="bx" x="598" y="875" width="179" height="173.3"/>
<g clip-path="url(#k15)">
<use href="#xd" transform="translate(574.7,1049.3) scale(1.018,1)"/><use href="#xd" transform="translate(620.5,1049.3) scale(1.018,1)"/><use href="#xd" transform="translate(666.3,1049.3) scale(1.018,1)"/><use href="#xd" transform="translate(712.1,1049.3) scale(1.018,1)"/><use href="#xd" transform="translate(757.9,1049.3) scale(1.018,1)"/>
<use href="#yd" transform="translate(597,1066.3) scale(1,.956)"/><use href="#yd" transform="translate(597,1023.3) scale(1,.956)"/><use href="#yd" transform="translate(597,980.3) scale(1,.956)"/><use href="#yd" transform="translate(597,937.3) scale(1,.956)"/><use href="#yd" transform="translate(597,894.3) scale(1,.956)"/>
</g>
<text class="a" x="620.5" y="1080.3">10</text><text class="e" x="621" y="1069.3">2</text>
<text class="a" x="666.3" y="1080.3">10</text><text class="e" x="666.8" y="1069.3">3</text>
<text class="a" x="712.1" y="1080.3">10</text><text class="e" x="712.6" y="1069.3">4</text>
<text class="a" x="757.9" y="1080.3">10</text><text class="e" x="758.4" y="1069.3">5</text>
<text class="b" transform="translate(576,1018.3) rotate(-90)">10</text><text class="f" transform="translate(566,1017.8) rotate(-90)">2</text>
<text class="b" transform="translate(576,975.3) rotate(-90)">10</text><text class="f" transform="translate(566,974.8) rotate(-90)">3</text>
<text class="b" transform="translate(576,932.3) rotate(-90)">10</text><text class="f" transform="translate(566,931.8) rotate(-90)">4</text>
<text class="b" transform="translate(576,889.3) rotate(-90)">10</text><text class="f" transform="translate(566,888.8) rotate(-90)">5</text>
<text class="tx" x="688" y="1098.8" textLength="123" lengthAdjust="spacingAndGlyphs">CD42a APC-A</text>
<text class="ty" transform="translate(559.3,959) rotate(-90)" textLength="128" lengthAdjust="spacingAndGlyphs">CD45 V500-A</text>

<!-- ================= P16 ================= -->
<g clip-path="url(#b16)">
<path d="M860,988L1000,983L1010,1049L860,1049Z" fill="url(#pK)"/>
<ellipse cx="915" cy="958" rx="55" ry="26" fill="url(#pB)"/>
<ellipse cx="895" cy="958" rx="36" ry="20" fill="#2b80e6"/>
<ellipse cx="940" cy="950" rx="14" ry="8" fill="#f0b4e2"/>
<ellipse cx="990" cy="932" rx="32" ry="20" fill="url(#pO)"/>
<ellipse cx="992" cy="933" rx="22" ry="12" fill="#c99a1e"/>
<ellipse cx="885" cy="1015" rx="30" ry="25" fill="url(#pG)"/>
<ellipse cx="889" cy="1005" rx="23" ry="12" fill="#26a526"/>
<ellipse cx="919" cy="1013" rx="19" ry="16" fill="#e42222"/>
<ellipse cx="985" cy="1022" rx="34" ry="28" fill="url(#pY)"/>
<ellipse cx="986" cy="1018" rx="26" ry="22" fill="#f2ec14" opacity=".85"/>
<path d="M1010,985L1028,972L1043,966L1043,1000L1030,1012L1012,1008Z" fill="#a33c6c" opacity=".85"/>
<path d="M1002.5 995h5M1005 992.5v5M1012.5 1012h5M1015 1009.5v5M1032.5 965h5M1035 962.5v5M997.5 985h5M1000 982.5v5" stroke="#a33c6c" stroke-width="2"/>
<path d="M859,1000v40" stroke="#e42222" stroke-width="2"/>
</g>
<rect class="bx" x="858" y="875" width="184" height="174.3"/>
<g clip-path="url(#k16)">
<use href="#xd" transform="translate(842.4,1050.3) scale(1.013,1)"/><use href="#xd" transform="translate(888,1050.3) scale(1.013,1)"/><use href="#xd" transform="translate(933.6,1050.3) scale(1.013,1)"/><use href="#xd" transform="translate(979.2,1050.3) scale(1.013,1)"/><use href="#xd" transform="translate(1024.8,1050.3) scale(1.013,1)"/>
<use href="#yd" transform="translate(857,1068.3) scale(1,.962)"/><use href="#yd" transform="translate(857,1025) scale(1,.962)"/><use href="#yd" transform="translate(857,981.7) scale(1,.962)"/><use href="#yd" transform="translate(857,938.4) scale(1,.962)"/><use href="#yd" transform="translate(857,895.1) scale(1,.962)"/>
</g>
<text class="a" x="888" y="1081.3">10</text><text class="e" x="888.5" y="1070.3">2</text>
<text class="a" x="933.6" y="1081.3">10</text><text class="e" x="934.1" y="1070.3">3</text>
<text class="a" x="979.2" y="1081.3">10</text><text class="e" x="979.7" y="1070.3">4</text>
<text class="a" x="1024.8" y="1081.3">10</text><text class="e" x="1025.3" y="1070.3">5</text>
<text class="b" transform="translate(836,1020) rotate(-90)">10</text><text class="f" transform="translate(826,1019.5) rotate(-90)">2</text>
<text class="b" transform="translate(836,976.7) rotate(-90)">10</text><text class="f" transform="translate(826,976.2) rotate(-90)">3</text>
<text class="b" transform="translate(836,933.4) rotate(-90)">10</text><text class="f" transform="translate(826,932.9) rotate(-90)">4</text>
<text class="b" transform="translate(836,890.1) rotate(-90)">10</text><text class="f" transform="translate(826,889.6) rotate(-90)">5</text>
<text class="tx" x="948" y="1099.8" textLength="153" lengthAdjust="spacingAndGlyphs">CD36 APC-Cy7-A</text>
<text class="ty" transform="translate(820.5,958.3) rotate(-90)" textLength="97" lengthAdjust="spacingAndGlyphs">CD64 PE-A</text>

<!-- ================= P17 ================= -->
<g clip-path="url(#b17)">
<path d="M69,1250L165,1255L215,1300L210,1324L69,1324Z" fill="#f8f6c0" opacity=".85"/>
<path d="M69,1205L100,1203L138,1205L138,1220L69,1222Z" fill="#26a526"/>
<path d="M69,1216L110,1214L165,1220L168,1236L130,1240L69,1240Z" fill="#2b80e6"/>
<ellipse cx="143" cy="1202" rx="15" ry="7" fill="#f0b4e2"/>
<ellipse cx="190" cy="1215" rx="20" ry="18" fill="url(#pO)"/>
<ellipse cx="198" cy="1207" rx="12" ry="12" fill="#c99a1e"/>
<ellipse cx="90" cy="1243" rx="22" ry="6" fill="#111" opacity=".85"/>
<ellipse cx="127" cy="1245" rx="20" ry="8" fill="#e42222"/>
<path d="M150,1232L212,1228L214,1250L150,1256Z" fill="url(#pK)"/>
<path d="M165,1262L200,1250L213,1262L210,1298L192,1305L172,1290Z" fill="#f2ec14"/>
<path d="M69,1240L75,1250" stroke="#e42222" stroke-width="3"/>
<path d="M205.5 1245h5M208 1242.5v5M212.5 1238h5M215 1235.5v5M222.5 1236h5M225 1233.5v5M229.5 1240h5M232 1237.5v5M209.5 1255h5M212 1252.5v5M219.5 1258h5M222 1255.5v5M232.5 1255h5M235 1252.5v5M207.5 1270h5M210 1267.5v5M223.5 1272h5M226 1269.5v5M233.5 1268h5M236 1265.5v5M215.5 1285h5M218 1282.5v5M227.5 1290h5M230 1287.5v5M202.5 1296h5M205 1293.5v5M211.5 1300h5M214 1297.5v5M225.5 1305h5M228 1302.5v5M234.5 1300h5M237 1297.5v5M207.5 1315h5M210 1312.5v5M219.5 1318h5M222 1315.5v5M230.5 1312h5M233 1309.5v5M187.5 1290h5M190 1287.5v5M182.5 1300h5M185 1297.5v5" stroke="#a33c6c" stroke-width="2" fill="none"/>
<path d="M208,1321.5h30" stroke="#a33c6c" stroke-width="3"/>
</g>
<rect class="bx" x="68" y="1156" width="171" height="167.3"/>
<g clip-path="url(#k17)">
<use href="#xd" transform="translate(46.8,1324.3) scale(.964,1)"/><use href="#xd" transform="translate(90.2,1324.3) scale(.964,1)"/><use href="#xd" transform="translate(133.6,1324.3) scale(.964,1)"/><use href="#xd" transform="translate(177,1324.3) scale(.964,1)"/><use href="#xd" transform="translate(220.4,1324.3) scale(.964,1)"/>
<use href="#yd" transform="translate(67,1344.5) scale(1,.951)"/><use href="#yd" transform="translate(67,1301.7) scale(1,.951)"/><use href="#yd" transform="translate(67,1258.9) scale(1,.951)"/><use href="#yd" transform="translate(67,1216.1) scale(1,.951)"/><use href="#yd" transform="translate(67,1173.3) scale(1,.951)"/>
</g>
<text class="a" x="90.2" y="1355.3">10</text><text class="e" x="90.7" y="1344.3">2</text>
<text class="a" x="133.6" y="1355.3">10</text><text class="e" x="134.1" y="1344.3">3</text>
<text class="a" x="177" y="1355.3">10</text><text class="e" x="177.5" y="1344.3">4</text>
<text class="a" x="220.4" y="1355.3">10</text><text class="e" x="220.9" y="1344.3">5</text>
<text class="b" transform="translate(46,1296.7) rotate(-90)">10</text><text class="f" transform="translate(36,1296.2) rotate(-90)">2</text>
<text class="b" transform="translate(46,1253.9) rotate(-90)">10</text><text class="f" transform="translate(36,1253.4) rotate(-90)">3</text>
<text class="b" transform="translate(46,1211.1) rotate(-90)">10</text><text class="f" transform="translate(36,1210.6) rotate(-90)">4</text>
<text class="b" transform="translate(46,1168.3) rotate(-90)">10</text><text class="f" transform="translate(36,1167.8) rotate(-90)">5</text>
<text class="tx" x="152.4" y="1373.8" textLength="150" lengthAdjust="spacingAndGlyphs">CD36 APC-Cy7-A</text>
<text class="ty" transform="translate(29,1240) rotate(-90)" textLength="127" lengthAdjust="spacingAndGlyphs">CD45 V500-A</text>

<!-- ================= P18 ================= -->
<g clip-path="url(#b18)">
<path d="M323,1252L396,1256L390,1300L323,1305Z" fill="#f8f6c0" opacity=".85"/>
<path d="M323,1205L355,1203L380,1206L380,1221L323,1223Z" fill="#26a526"/>
<path d="M323,1216L380,1213L410,1221L405,1241L323,1243Z" fill="#2b80e6"/>
<path d="M400,1215L430,1215L432,1240L405,1240Z" fill="url(#pB2)"/>
<ellipse cx="412" cy="1199" rx="10" ry="5" fill="#f0b4e2"/>
<ellipse cx="420" cy="1210" rx="32" ry="14" fill="url(#pO)"/>
<ellipse cx="422" cy="1205" rx="25" ry="7" fill="#c99a1e"/>
<ellipse cx="340" cy="1243" rx="18" ry="6" fill="#111"/>
<ellipse cx="368" cy="1248" rx="25" ry="9" fill="#e42222"/>
<path d="M421 1257h5M424 1254.5v5M431.5 1247h5M434 1244.5v5M445 1240h5M448 1237.5v5M455.5 1263h5M458 1260.5v5M462.5 1233h5M465 1230.5v5M469.5 1240h5M472 1237.5v5M472.5 1253h5M475 1250.5v5M486.5 1233h5M489 1230.5v5M493.5 1240h5M496 1237.5v5M500.5 1257h5M503 1254.5v5M483 1280h5M485.5 1277.5v5M490 1287h5M492.5 1284.5v5M497 1297h5M499.5 1294.5v5M445 1267h5M447.5 1264.5v5M455.5 1290h5M458 1287.5v5M431.5 1300h5M434 1297.5v5M479.5 1313h5M482 1310.5v5M486.5 1323h5M489 1320.5v5M500.5 1273h5M503 1270.5v5M478 1270h5M480.5 1267.5v5M436.5 1303h5M439 1300.5v5" stroke="#a33c6c" stroke-width="2" fill="none"/>
<path d="M468,1325h30" stroke="#a33c6c" stroke-width="3"/>
</g>
<rect class="bx" x="322" y="1154.3" width="185" height="172.4"/>
<g clip-path="url(#k18)">
<use href="#xd" transform="translate(304.2,1327.7) scale(1.007,1)"/><use href="#xd" transform="translate(349.5,1327.7) scale(1.007,1)"/><use href="#xd" transform="translate(394.8,1327.7) scale(1.007,1)"/><use href="#xd" transform="translate(440.1,1327.7) scale(1.007,1)"/><use href="#xd" transform="translate(485.4,1327.7) scale(1.007,1)"/>
<use href="#yd" transform="translate(321,1346.6) scale(1,.962)"/><use href="#yd" transform="translate(321,1303.3) scale(1,.962)"/><use href="#yd" transform="translate(321,1260) scale(1,.962)"/><use href="#yd" transform="translate(321,1216.7) scale(1,.962)"/><use href="#yd" transform="translate(321,1173.4) scale(1,.962)"/>
</g>
<text class="a" x="349.5" y="1358.7">10</text><text class="e" x="350" y="1347.7">2</text>
<text class="a" x="394.8" y="1358.7">10</text><text class="e" x="395.3" y="1347.7">3</text>
<text class="a" x="440.1" y="1358.7">10</text><text class="e" x="440.6" y="1347.7">4</text>
<text class="a" x="485.4" y="1358.7">10</text><text class="e" x="485.9" y="1347.7">5</text>
<text class="b" transform="translate(300,1298.3) rotate(-90)">10</text><text class="f" transform="translate(290,1297.8) rotate(-90)">2</text>
<text class="b" transform="translate(300,1255) rotate(-90)">10</text><text class="f" transform="translate(290,1254.5) rotate(-90)">3</text>
<text class="b" transform="translate(300,1211.7) rotate(-90)">10</text><text class="f" transform="translate(290,1211.2) rotate(-90)">4</text>
<text class="b" transform="translate(300,1168.4) rotate(-90)">10</text><text class="f" transform="translate(290,1167.9) rotate(-90)">5</text>
<text class="tx" x="414" y="1377.2" textLength="122" lengthAdjust="spacingAndGlyphs">CD42a APC-A</text>
<text class="ty" transform="translate(282,1236) rotate(-90)" textLength="122" lengthAdjust="spacingAndGlyphs">CD45 V500-A</text>

<!-- ================= P19 ================= -->
<g clip-path="url(#b19)">
<path d="M619.4,1280L628.2,1253.3L642.2,1236.7L649.3,1206.7L656.3,1226.7L684.3,1220L712.4,1213.3L726.4,1220L722.9,1233.3L705.4,1243.3L684.3,1250L663.3,1256.7L642.2,1270L624.7,1283.3Z" fill="#a33c6c"/>
<path d="M645.5 1205h5M648 1202.5v5M653.5 1210h5M656 1207.5v5M702.5 1212h5M705 1209.5v5M715.5 1214h5M718 1211.5v5M724.5 1220h5M727 1217.5v5M718.5 1232h5M721 1229.5v5M709.5 1238h5M712 1235.5v5M637.5 1235h5M640 1232.5v5M620.5 1282h5M623 1279.5v5M617.5 1287h5M620 1284.5v5M697.5 1247h5M700 1244.5v5" stroke="#a33c6c" stroke-width="2" fill="none"/>
</g>
<rect class="bx" x="595" y="1153.3" width="179" height="171.7"/>
<g clip-path="url(#k19)">
<path d="M595 1326v10M628.6 1326v10M662.2 1326v10M695.8 1326v10M729.4 1326v10M763 1326v10" stroke="#000" stroke-width="2"/>
<path d="M601.7 1326v7M608.4 1326v7M615.2 1326v7M621.9 1326v7M635.3 1326v7M642 1326v7M648.8 1326v7M655.5 1326v7M668.9 1326v7M675.6 1326v7M682.4 1326v7M689.1 1326v7M702.5 1326v7M709.2 1326v7M716 1326v7M722.7 1326v7M736.1 1326v7M742.8 1326v7M749.6 1326v7M756.3 1326v7M769.7 1326v7" stroke="#000" stroke-width="1.2"/>
<use href="#yd" transform="translate(594,1344.5) scale(1,.951)"/><use href="#yd" transform="translate(594,1301.7) scale(1,.951)"/><use href="#yd" transform="translate(594,1258.9) scale(1,.951)"/><use href="#yd" transform="translate(594,1216.1) scale(1,.951)"/><use href="#yd" transform="translate(594,1173.3) scale(1,.951)"/>
</g>
<text x="628.6" y="1357" font-size="13" text-anchor="middle">50</text>
<text x="662.2" y="1357" font-size="13" text-anchor="middle">100</text>
<text x="695.8" y="1357" font-size="13" text-anchor="middle">150</text>
<text x="729.4" y="1357" font-size="13" text-anchor="middle">200</text>
<text x="763" y="1357" font-size="13" text-anchor="middle">250</text>
<text class="b" transform="translate(573,1296.7) rotate(-90)">10</text><text class="f" transform="translate(563,1296.2) rotate(-90)">2</text>
<text class="b" transform="translate(573,1253.9) rotate(-90)">10</text><text class="f" transform="translate(563,1253.4) rotate(-90)">3</text>
<text class="b" transform="translate(573,1211.1) rotate(-90)">10</text><text class="f" transform="translate(563,1210.6) rotate(-90)">4</text>
<text class="b" transform="translate(573,1168.3) rotate(-90)">10</text><text class="f" transform="translate(563,1167.8) rotate(-90)">5</text>
<text x="655" y="1374" font-size="18" textLength="52" lengthAdjust="spacingAndGlyphs">FSC-A</text>
<text x="708" y="1382" font-size="13" textLength="65" lengthAdjust="spacingAndGlyphs">(x 1,000)</text>
<text class="ty" transform="translate(555.8,1235) rotate(-90)" textLength="57" lengthAdjust="spacingAndGlyphs">SSC-A</text>

<!-- ================= P20 ================= -->
<g clip-path="url(#b20)">
<path d="M964.9,1306.7L975.4,1266.7L986,1236.7L993,1230L1040,1227.3L1040,1327L1017.5,1327L1014,1313.3L996.5,1296.7L979,1303.3Z" fill="#a33c6c" opacity=".78"/>
<path d="M1012,1235L1041,1233L1041,1327L1017,1327L1010,1300L1010,1260Z" fill="#a33c6c"/>
<path d="M962.5 1306h5M965 1303.5v5M965.5 1295h5M968 1292.5v5M969.5 1280h5M972 1277.5v5M973.5 1268h5M976 1265.5v5M979.5 1255h5M982 1252.5v5M987.5 1240h5M990 1237.5v5M997.5 1232h5M1000 1229.5v5M957.5 1323h5M960 1320.5v5M965.5 1323h5M968 1320.5v5M973.5 1323h5M976 1320.5v5M981.5 1323h5M984 1320.5v5" stroke="#a33c6c" stroke-width="2" fill="none"/>
</g>
<rect class="bx" x="854" y="1154" width="186" height="172.7"/>
<g clip-path="url(#k20)">
<use href="#xd" transform="translate(837.5,1327.7)"/><use href="#xd" transform="translate(882.5,1327.7)"/><use href="#xd" transform="translate(927.5,1327.7)"/><use href="#xd" transform="translate(972.5,1327.7)"/><use href="#xd" transform="translate(1017.5,1327.7)"/>
<use href="#yd" transform="translate(853,1346.6) scale(1,.962)"/><use href="#yd" transform="translate(853,1303.3) scale(1,.962)"/><use href="#yd" transform="translate(853,1260) scale(1,.962)"/><use href="#yd" transform="translate(853,1216.7) scale(1,.962)"/><use href="#yd" transform="translate(853,1173.4) scale(1,.962)"/>
</g>
<text class="a" x="882.5" y="1358.7">10</text><text class="e" x="883" y="1347.7">2</text>
<text class="a" x="927.5" y="1358.7">10</text><text class="e" x="928" y="1347.7">3</text>
<text class="a" x="972.5" y="1358.7">10</text><text class="e" x="973" y="1347.7">4</text>
<text class="a" x="1017.5" y="1358.7">10</text><text class="e" x="1018" y="1347.7">5</text>
<text class="b" transform="translate(832,1298.3) rotate(-90)">10</text><text class="f" transform="translate(822,1297.8) rotate(-90)">2</text>
<text class="b" transform="translate(832,1255) rotate(-90)">10</text><text class="f" transform="translate(822,1254.5) rotate(-90)">3</text>
<text class="b" transform="translate(832,1211.7) rotate(-90)">10</text><text class="f" transform="translate(822,1211.2) rotate(-90)">4</text>
<text class="b" transform="translate(832,1168.4) rotate(-90)">10</text><text class="f" transform="translate(822,1167.9) rotate(-90)">5</text>
<text class="tx" x="946.5" y="1377.2" textLength="121" lengthAdjust="spacingAndGlyphs">CD42a APC-A</text>
<text class="ty" transform="translate(815.3,1235) rotate(-90)" textLength="123" lengthAdjust="spacingAndGlyphs">CD45 V500-A</text>
</svg>
</body></html>
